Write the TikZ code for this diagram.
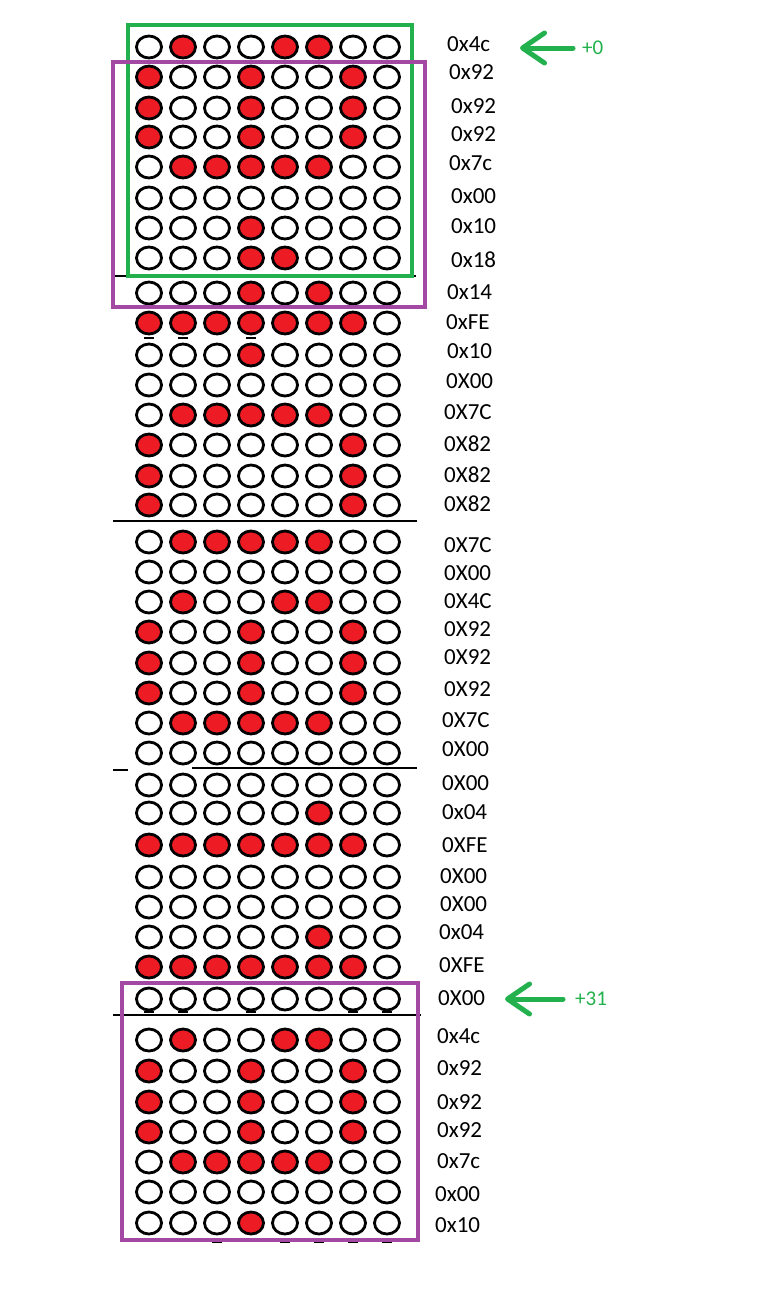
\documentclass[tikz,border=0pt]{standalone}
\usepackage{fontspec}
\setmainfont{Carlito}
\usepackage{tikz}
\usetikzlibrary{shapes.geometric, arrows.meta, positioning, calc}
\definecolor{ledred}{RGB}{237,28,36}
\definecolor{mark}{RGB}{34,177,76}
\definecolor{frame}{RGB}{163,73,164}
\tikzset{
  led/.style     = {ellipse, draw=black, line width=2.8pt, inner sep=0pt,
                    minimum width=25pt, minimum height=22pt},
  ledon/.style   = {led, fill=ledred},
  hexlbl/.style  = {anchor=west, inner sep=0pt, font=\fontsize{23}{27}\selectfont},
  offlbl/.style  = {anchor=west, inner sep=0pt, text=mark,
                    font=\fontsize{21}{25}\selectfont},
  gframe/.style  = {draw=mark, line width=4.5pt},
  pframe/.style  = {draw=frame, line width=4.5pt},
  garrow/.style  = {-{Straight Barb[length=22pt, width=30pt, round]},
                    line width=5pt, line cap=round, draw=mark},
  sep/.style     = {line width=1.2pt},
}

\begin{document}
\begin{tikzpicture}[x=1pt, y=-1pt]
  \useasboundingbox (0,0) rectangle (756,1304);

  % separators between characters
  \draw[sep] (113,276) -- (416,276);
  \draw[sep] (113,521) -- (417,521);
  \draw[sep] (113,770) -- (128,770);
  \draw[sep] (192,768) -- (417,768);
  \draw[sep] (113,1015) -- (421,1015);

  % rows: circle y / label y / label x / value / label
  \foreach \cy/\ly/\lx/\val/\txt [count=\r] in {
      47/44/447/76/0x4c,     77/72/449/146/0x92,    108/106/451/146/0x92,
      137/134/451/146/0x92,  167/163/449/124/0x7c,  198/196/451/0/0x00,
      228/226/451/16/0x10,   258/260/451/24/0x18,   293/292/447/20/0x14,
      323/322/446/254/0xFE,  355/351/447/16/0x10,   385/381/446/0/0X00,
      415/412/444/124/0X7C,  445/444/444/130/0X82,  476/475/444/130/0X82,
      505/504/444/130/0X82,  542/545/444/124/0X7C,  572/573/444/0/0X00,
      602/601/444/76/0X4C,   632/629/444/146/0X92,  663/657/444/146/0X92,
      693/689/444/146/0X92,  723/720/442/124/0X7C,  753/749/442/0/0X00,
      785/783/442/0/0X00,    813/812/442/4/0x04,    845/845/442/254/0XFE,
      877/876/440/0/0X00,    907/904/440/0/0X00,    937/932/439/4/0x04,
      967/965/439/254/0XFE,  999/998/438/0/0X00,    1040/1036/437/76/0x4c,
      1071/1068/437/146/0x92, 1102/1102/437/146/0x92, 1132/1130/437/146/0x92,
      1162/1161/437/124/0x7c, 1192/1194/435/0/0x00,  1223/1225/435/16/0x10} {
    \foreach \cx [count=\k] in {149,183,217,251,285,319,353,387} {
      \pgfmathtruncatemacro{\on}{mod(floor(\val/2^(8-\k)),2)}
      \ifnum\on=1
        \node[ledon] (c-\r-\k) at (\cx,\cy) {};
      \else
        \node[led] (c-\r-\k) at (\cx,\cy) {};
      \fi
    }
    \node[hexlbl] (h-\r) at (\lx,\ly) {\txt};
  }

  % stray pen marks under some circles
  \foreach \r/\k/\dy in {10/1/15, 10/2/15, 10/4/15, 32/1/13, 32/2/13,
                         32/4/13, 32/7/13, 32/8/13, 39/3/19, 39/5/19,
                         39/6/19, 39/7/19, 39/8/19}
    \draw[sep] ([xshift=-5pt, yshift=-\dy pt]c-\r-\k.center) -- ++(10,0);

  % windows
  \draw[gframe] (128,25) rectangle (412,276);
  \draw[pframe] (113,62) rectangle (425,307);
  \draw[pframe] (122,983) rectangle (418,1240);

  % offsets
  \node[offlbl] (off0)  at (582,48)  {+0};
  \node[offlbl] (off31) at (575,999) {+31};
  \coordinate (tip0)  at (520,48);
  \coordinate (tip31) at (505,999);
  \draw[garrow, shorten <=9pt] (off0.west) -- (tip0);
  \draw[garrow, shorten <=12pt] (off31.west) -- (tip31);
\end{tikzpicture}
\end{document}
